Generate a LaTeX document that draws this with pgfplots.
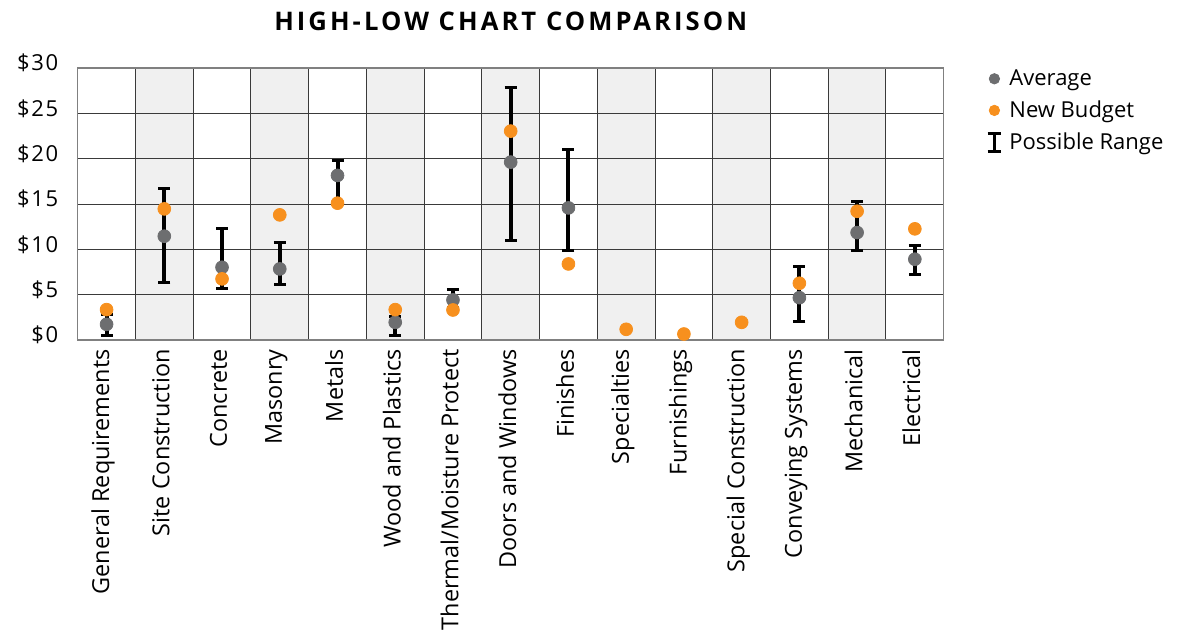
\documentclass[border=0pt]{standalone}
\usepackage{fontspec}
\setmainfont{Open Sans}
\newfontfamily\titlefont[LetterSpace=12]{Open Sans}
\newfontfamily\tickfont[LetterSpace=8]{Open Sans}
\usepackage{pgfplots}
\pgfplotsset{compat=1.18}
\usepackage{pgfplotstable}

\definecolor{avggray}{HTML}{6D6E70}
\definecolor{budorange}{HTML}{F7901E}
\definecolor{shade}{HTML}{F0F0F0}
\definecolor{gridc}{HTML}{3A3A3A}
\definecolor{framec}{HTML}{808080}

% x = category index, avg / low / high / budget in dollars
\pgfplotstableread{
x avg low high budget
0 1.73 0.52 2.80 3.35
1 11.45 6.37 16.67 14.46
2 8.02 5.63 12.26 6.74
3 7.84 6.11 10.78 13.80
4 18.15 15.00 19.76 15.09
5 1.95 0.52 2.60 3.35
6 4.42 3.60 5.56 3.31
7 19.62 11.00 27.86 23.04
8 14.57 9.83 21.02 8.39
9 nan nan nan 1.18
10 nan nan nan 0.66
11 nan nan nan 1.95
12 4.67 1.99 8.10 6.26
13 11.85 9.86 15.27 14.20
14 8.91 7.18 10.42 12.26
}\data

\begin{document}
\begin{tikzpicture}
\begin{axis}[
  set layers,
  scale only axis,
  width=433pt, height=136pt,
  xmin=-0.5, xmax=14.5,
  ymin=0, ymax=30,
  xtick={0,...,14},
  xticklabels={General Requirements,Site Construction,Concrete,Masonry,Metals,Wood and Plastics,Thermal/Moisture Protect,Doors and Windows,Finishes,Specialties,Furnishings,Special Construction,Conveying Systems,Mechanical,Electrical},
  minor xtick={0.5,1.5,...,13.5},
  ytick={0,5,...,30},
  yticklabels={\$0,\$5,\$10,\$15,\$20,\$25,\$30},
  major tick length=0pt, minor tick length=0pt,
  ymajorgrids, xminorgrids,
  grid style={gridc, line width=0.5pt},
  axis line style={framec, line width=0.7pt},
  xticklabel style={xshift=-1.7pt, rotate=90, anchor=east, inner sep=0pt, font=\fontsize{11.7}{13}\selectfont},
  xticklabel shift=4.5pt,
  yticklabel style={anchor=east, inner sep=0pt, font=\tickfont\fontsize{11}{13}\selectfont, yshift=2.5pt},
  yticklabel shift=9.5pt,
  title={HIGH-LOW CHART COMPARISON},
  title style={font=\titlefont\bfseries\fontsize{12.8}{14}\selectfont, anchor=base, at={(0.5,1)}, yshift=13pt},
  legend style={draw=none, fill=none, at={(1,1)}, anchor=north west, xshift=21pt, yshift=1.5pt,
    font=\fontsize{11}{13}\selectfont, row sep=2.2pt, inner sep=0pt},
  legend cell align=left,
]
% alternating column shading
\addplot[ybar, bar width=1, bar shift=0pt, fill=shade, draw=none, forget plot, on layer=axis background]
  coordinates {(1,30) (3,30) (5,30) (7,30) (9,30) (11,30) (13,30)};
% possible range
\addplot[draw=none, mark=none, forget plot,
  error bars/.cd, y dir=both, y explicit,
  error bar style={black, line width=2pt},
  error mark options={black, rotate=90, mark size=3pt, line width=1.5pt}]
  table[x=x, y=avg, y error plus expr=\thisrow{high}-\thisrow{avg}, y error minus expr=\thisrow{avg}-\thisrow{low}] {\data};
% average
\addplot[only marks, mark=*, mark size=3.2pt, avggray, mark options={draw=none, fill=avggray}, forget plot]
  table[x=x, y=avg] {\data};
% new budget
\addplot[only marks, mark=*, mark size=3.2pt, budorange, mark options={draw=none, fill=budorange}, forget plot]
  table[x=x, y=budget] {\data};

\addlegendimage{legend image code/.code={\fill[avggray] (0cm,0cm) circle (2.6pt); \path[draw=none, fill=none] (5.5pt,0cm) circle (0.01pt);}}
\addlegendentry{Average}
\addlegendimage{legend image code/.code={\fill[budorange] (0cm,0cm) circle (2.6pt); \path[draw=none, fill=none] (5.5pt,0cm) circle (0.01pt);}}
\addlegendentry{New Budget}
\addlegendimage{legend image code/.code={\draw[black, line width=1.8pt] (0cm,-4.5pt) -- (0cm,4.5pt);
  \draw[black, line width=1.5pt] (-3.4pt,4.5pt) -- (3.4pt,4.5pt);
  \draw[black, line width=1.5pt] (-3.4pt,-4.5pt) -- (3.4pt,-4.5pt);
  \path[draw=none, fill=none] (5.5pt,0cm) circle (0.01pt);}}
\addlegendentry{Possible Range}
\end{axis}
\pgfresetboundingbox
\path[use as bounding box] (current axis.south west) ++(-38.85pt,-148.5pt) rectangle ++(591pt,318.5pt);
\end{tikzpicture}
\end{document}
